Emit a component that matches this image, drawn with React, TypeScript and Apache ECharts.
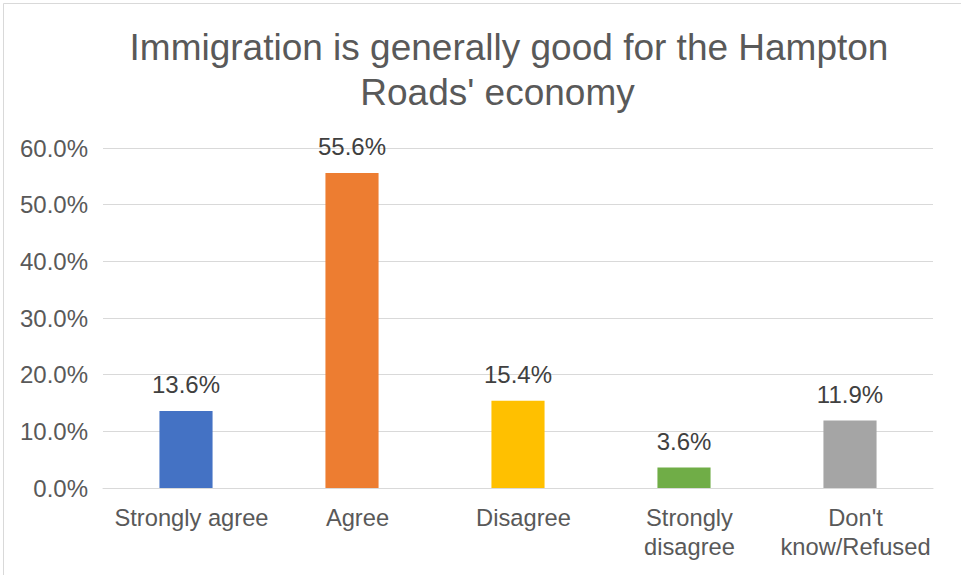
import React, { useEffect, useRef } from "react";
import * as echarts from "echarts";

const categories = ["Strongly agree", "Agree", "Disagree", "Strongly\ndisagree", "Don't\nknow/Refused"];
const values = [13.6, 55.6, 15.4, 3.6, 11.9];
const barColors = ["#4472C4", "#ED7D31", "#FFC000", "#70AD47", "#A5A5A5"];
const titleLine1 = "Immigration is generally good for the Hampton";
const titleLine2 = "Roads' economy";
const yTicks = { min: 0, max: 60, interval: 10 };

const FONT = '"Liberation Sans", Arial, sans-serif';

export default function App() {
  const ref = useRef<HTMLDivElement>(null);
  useEffect(() => {
    if (!ref.current) return;
    const chart = echarts.init(ref.current, undefined, { renderer: "svg" });
    chart.setOption({
      animation: false,
      backgroundColor: "#ffffff",
      textStyle: { fontFamily: FONT },
      graphic: [
        {
          type: "rect",
          shape: { x: 3.5, y: 3.5, width: 1000, height: 1000 },
          style: { fill: "none", stroke: "#d9d9d9", lineWidth: 1 },
          silent: true,
        },
        {
          type: "text",
          x: 509,
          y: 47,
          style: {
            text: titleLine1,
            fill: "#595959",
            font: `37px ${FONT}`,
            align: "center",
            verticalAlign: "middle",
          },
        },
        {
          type: "text",
          x: 497.5,
          y: 92,
          style: {
            text: titleLine2,
            fill: "#595959",
            font: `37px ${FONT}`,
            align: "center",
            verticalAlign: "middle",
          },
        },
      ],
      grid: { left: 103, right: 28, top: 148, bottom: 87, containLabel: false },
      xAxis: {
        type: "category",
        data: categories,
        axisLine: { lineStyle: { color: "#d9d9d9", width: 1 } },
        axisTick: { show: false },
        axisLabel: {
          interval: 0,
          color: "#595959",
          fontSize: 23.7,
          lineHeight: 28.5,
          margin: 16,
          padding: [0, 0, 0, 11],
          fontFamily: FONT,
        },
      },
      yAxis: {
        type: "value",
        min: yTicks.min,
        max: yTicks.max,
        interval: yTicks.interval,
        axisLine: { show: false },
        axisTick: { show: false },
        splitLine: { lineStyle: { color: "#d9d9d9", width: 1 } },
        axisLabel: {
          color: "#595959",
          fontSize: 24,
          margin: 15,
          fontFamily: FONT,
          formatter: (v: number) => v.toFixed(1) + "%",
        },
      },
      series: [
        {
          type: "bar",
          barWidth: "32%",
          data: values.map((v, i) => ({ value: v, itemStyle: { color: barColors[i] } })),
          label: {
            show: true,
            position: "top",
            distance: 14.5,
            color: "#404040",
            fontSize: 24,
            lineHeight: 24,
            fontFamily: FONT,
            formatter: (p: any) => Number(p.value).toFixed(1) + "%",
          },
        },
      ],
    });
    return () => chart.dispose();
  }, []);
  return (
    <div
      ref={ref}
      style={{ position: "absolute", left: 0, top: 0, width: 961, height: 575, background: "#fff" }}
    />
  );
}
